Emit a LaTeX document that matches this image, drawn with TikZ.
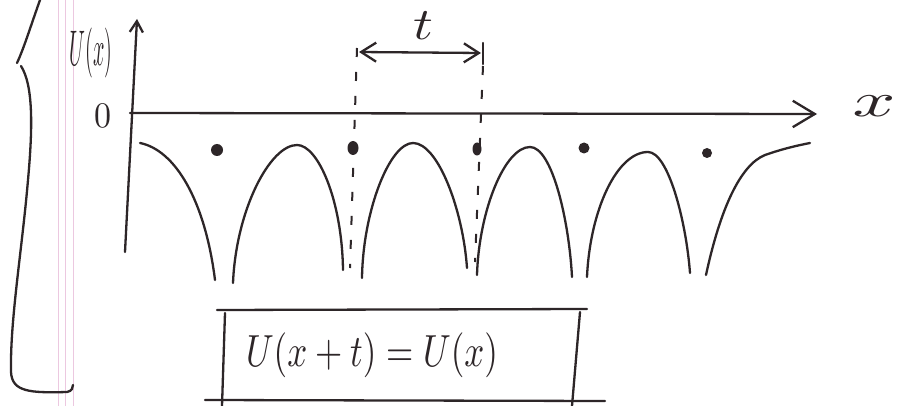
\documentclass[tikz,border=0pt]{standalone}
\usetikzlibrary{arrows.meta}
\definecolor{inkc}{RGB}{45,38,40}
\definecolor{marginc}{RGB}{236,200,224}
\begin{document}
\begin{tikzpicture}[x=1pt,y=-1pt,
  ink/.style={draw=inkc, line width=2.3pt, line cap=round, line join=round},
  guide/.style={draw=inkc, line width=2pt, dash pattern=on 9pt off 15pt},
  marginline/.style={draw=marginc, line width=0.8pt},
  barb/.style={-{Straight Barb[length=#1,width=1.2*#1,line width=2.3pt]}},
  dot/.style={fill=inkc, draw=none},
  hand/.style={text=inkc, inner sep=0pt},
]
\useasboundingbox[fill=white] (0,0) rectangle (923,406);

% notebook margin lines
\draw[marginline] (58,0) -- (58,406);
\draw[marginline] (65,0) -- (65,406);
\draw[marginline] (73,0) -- (73,406);

% big left bracket
\draw[ink] (40,0) .. controls (30,28) and (24,48) .. (17,63);
\draw[ink] (21,66) .. controls (33,85) and (33,125) .. (28,180)
  .. controls (22,250) and (10,320) .. (11,372)
  .. controls (12,392) and (30,393) .. (67,392)
  .. controls (72,391) and (73,388) .. (73,385);

% labels
\node[hand] (Ulab) at (91,53) {\scalebox{2}[5]{$U(x)$}};
\node[hand] (zero) at (103,116) {\scalebox{3.4}[3.6]{0}};
\node[hand] (xlab) at (874,106) {\scalebox{7.5}[4.8]{$x$}};
\node[hand] (tlab) at (423,26) {\scalebox{5.5}[4.5]{$t$}};

% axes
\coordinate (yb) at (125,252);
\coordinate (yt) at (137,19);
\draw[ink, barb=11pt] (yb) -- (yt);
\coordinate (xl) at (130,113);
\coordinate (xr) at (817,114);
\draw[ink, barb=22pt] (xl) -- (xr);

% period markers
\coordinate (d1t) at (357,48);
\coordinate (d1b) at (350,268);
\coordinate (d2t) at (483,66);
\coordinate (d2b) at (475,262);
\draw[guide] (d1t) -- (d1b);
\draw[guide] (d2t) -- (d2b);
\coordinate (tl) at (359,52);
\coordinate (tr) at (481,53);
\draw[ink, {Straight Barb[length=15pt,width=19pt,line width=2.3pt]}-{Straight Barb[length=15pt,width=19pt,line width=2.3pt]}] (tl) -- (tr);
\draw[ink] (483,43) -- (483,64);

% potential curve
\draw[ink] (140,143) .. controls (175,150) and (205,200) .. (215,280);
\draw[ink] (233,283) .. controls (236,210) and (270,145) .. (297,145)
  .. controls (318,145) and (342,200) .. (343,270);
\draw[ink] (362,278) .. controls (363,210) and (390,143) .. (413,143)
  .. controls (438,143) and (463,210) .. (467,268);
\draw[ink] (477,275) .. controls (479,210) and (505,147) .. (530,147)
  .. controls (552,147) and (569,220) .. (572,277);
\draw[ink] (587,277) .. controls (590,210) and (617,152) .. (648,152)
  .. controls (668,152) and (686,220) .. (690,273);
\draw[ink] (706,275) .. controls (720,210) and (740,165) .. (765,155)
  .. controls (785,148) and (800,145) .. (810,143);

% ion positions
\fill[dot] (217,150) ellipse (6pt and 6pt);
\fill[dot] (353,148) ellipse (5.5pt and 7pt);
\fill[dot] (477,149) ellipse (4.5pt and 6.5pt);
\fill[dot] (584,148) ellipse (5.5pt and 5.5pt);
\fill[dot] (707,153) ellipse (5pt and 5pt);

% boxed periodicity relation
\draw[ink] (217,310) -- (587,309);
\draw[ink] (225,313) -- (222,406);
\draw[ink] (580,312) -- (572,406);
\draw[ink] (205,400) -- (605,401);
\node[hand] (rel) at (372,355) {\scalebox{3.5}[4.5]{$U(x+t)=U(x)$}};
\end{tikzpicture}
\end{document}
